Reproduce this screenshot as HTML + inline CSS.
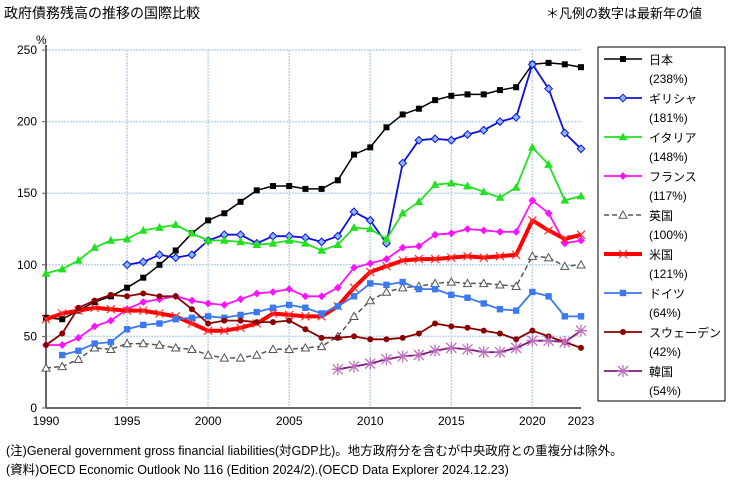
<!DOCTYPE html>
<html><head><meta charset="utf-8">
<style>
body{margin:0;background:#fff;}
svg{display:block;font-family:"Liberation Sans","Noto Sans CJK JP",sans-serif;}
</style></head>
<body>
<svg id="chart" width="736" height="486" viewBox="0 0 736 486">
<text x="4" y="18" font-size="14">政府債務残高の推移の国際比較</text>
<text x="546" y="18" font-size="13">＊凡例の数字は最新年の値</text>
<g id="grid"></g>
<g id="series"></g>
<g id="legend"></g>
<text x="6" y="455" font-size="12.5">(注)General government gross financial liabilities(対GDP比)。地方政府分を含むが中央政府との重複分は除外。</text>
<text x="6" y="474" font-size="12.5">(資料)OECD Economic Outlook No 116 (Edition 2024/2).(OECD Data Explorer 2024.12.23)</text>
</svg>
<script>
const years = [];
for (let y = 1990; y <= 2023; y++) years.push(y);
const yTicks = [0,50,100,150,200,250];
const xTicks = [1990,1995,2000,2005,2010,2015,2020,2023];
const japan = [63,62,68,74,78,84,91,100,110,122,131,136,144,152,155,155,153,153,159,177,182,196,205,209,215,218,219,219,222,224,240,241,240,238];
const greece = [null,null,null,null,null,100,102,107,105,107,117,121,121,115,120,120,119,116,120,137,131,115,171,187,188,187,191,194,200,203,240,223,192,181];
const italy = [94,97,103,112,117,118,124,126,128,122,117,117,116,114,115,117,115,110,114,126,125,118,136,144,156,157,155,151,147,154,182,170,145,148];
const france = [44,44,49,57,61,69,74,76,78,75,73,72,76,80,81,83,78,78,84,98,101,104,112,113,121,122,125,124,123,123,145,136,115,117];
const uk = [28,29,34,42,41,45,45,44,42,41,37,35,35,37,41,41,42,43,50,64,75,81,84,85,87,88,87,87,86,85,106,105,99,100];
const us = [62,66,68,70,69,68,68,66,64,59,54,54,56,59,66,65,64,64,71,84,95,99,103,104,104,105,106,105,106,107,131,124,118,121];
const germany = [null,37,40,45,46,55,58,59,62,63,64,63,65,67,70,72,70,66,71,78,87,86,88,83,83,79,77,73,69,68,81,78,64,64];
const sweden = [44,52,70,75,79,78,80,78,78,69,59,61,61,60,60,61,55,49,49,50,48,48,49,52,59,57,56,54,52,48,54,50,46,42];
const korea = [null,null,null,null,null,null,null,null,null,null,null,null,null,null,null,null,null,null,27,29,31,34,36,37,40,42,41,39,39,42,47,47,46,54];
const legendNames = ["日本","ギリシャ","イタリア","フランス","英国","米国","ドイツ","スウェーデン","韓国"];
const legendValues = ["(238%)","(181%)","(148%)","(117%)","(100%)","(121%)","(64%)","(42%)","(54%)"];

const NS = "http://www.w3.org/2000/svg";
const X0 = 46, X1 = 581, Y0 = 408, Y1 = 50;
function xs(yr){ return X0 + (yr - 1990) * (X1 - X0) / 33; }
function ys(v){ return Y0 - v * (Y0 - Y1) / 250; }
function mk(tag, attrs, parent){ const e = document.createElementNS(NS, tag); for (const k in attrs) e.setAttribute(k, attrs[k]); parent.appendChild(e); return e; }

const grid = document.getElementById('grid');
yTicks.forEach(v => {
  if (v > 0) {
    const gl = mk('line', {x1:X0, x2:X1, y1:ys(v), y2:ys(v), stroke:'#bcd4ee', 'stroke-width':1.5, 'stroke-dasharray':'2,1'}, grid);
    
    
  }
  const t = mk('text', {x:37, y:ys(v)+4, 'font-size':12, 'text-anchor':'end'}, grid);
  t.textContent = v;
  
  
  const tk = mk('line', {x1:X0-4, x2:X0, y1:ys(v), y2:ys(v), stroke:'#555', 'stroke-width':1}, grid);
  
  
});
xTicks.forEach(yr => {
  if (yr > 1990 && yr < 2023) {
    const gl = mk('line', {x1:xs(yr), x2:xs(yr), y1:Y1, y2:Y0, stroke:'#bcd4ee', 'stroke-width':1.5, 'stroke-dasharray':'2,1'}, grid);
    
    
  }
  const t = mk('text', {x:xs(yr), y:425, 'font-size':12, 'text-anchor':'middle'}, grid);
  t.textContent = yr;
  
  
});
const pct = mk('text', {x:36, y:44, 'font-size':12}, grid);
pct.textContent = '%';


const ax1 = mk('line', {x1:X0, x2:X0, y1:Y1-5, y2:Y0, stroke:'#666', 'stroke-width':2}, grid);


const ax2 = mk('line', {x1:X0, x2:X1, y1:Y0, y2:Y0, stroke:'#666', 'stroke-width':2}, grid);



const styles = [
  {data:japan, color:'#000', w:1.5, m:'square', mf:'#000', ms:3},
  {data:greece, color:'#1010e0', w:1.8, m:'diamond', mf:'#8ab8f0', ms:2.8},
  {data:italy, color:'#22e022', w:1.8, m:'triangle', mf:'#22e022', ms:3.5},
  {data:france, color:'#ff10ff', w:1.8, m:'diamond', mf:'#ff10ff', ms:2.2},
  {data:uk, color:'#555', w:1.5, m:'triangle', mf:'#fff', ms:4, dash:'5,3'},
  {data:us, color:'#ff0000', w:4, m:'x', mf:'#ff3030', ms:4},
  {data:germany, color:'#3c78f0', w:1.8, m:'square', mf:'#3c78f0', ms:3.2},
  {data:sweden, color:'#8b0000', w:1.8, m:'circle', mf:'#8b0000', ms:3},
  {data:korea, color:'#7a1a7a', w:1.8, m:'star', mf:'#c070c0', ms:5}
];
function marker(g, type, x, y, s, fill, stroke){
  let e;
  if (type === 'square') e = mk('rect', {x:x-s, y:y-s, width:2*s, height:2*s, fill:fill}, g);
  else if (type === 'diamond') e = mk('polygon', {points:`${x},${y-s-1} ${x+s+1},${y} ${x},${y+s+1} ${x-s-1},${y}`, fill:fill, stroke:stroke, 'stroke-width':1}, g);
  else if (type === 'triangle') e = mk('polygon', {points:`${x},${y-s} ${x+s},${y+s*0.8} ${x-s},${y+s*0.8}`, fill:fill, stroke:stroke, 'stroke-width':1}, g);
  else if (type === 'circle') e = mk('circle', {cx:x, cy:y, r:s, fill:fill}, g);
  else if (type === 'x') e = mk('path', {d:`M${x-s},${y-s}L${x+s},${y+s}M${x-s},${y+s}L${x+s},${y-s}`, stroke:fill, 'stroke-width':1.2}, g);
  else e = mk('path', {d:`M${x-s},${y-s}L${x+s},${y+s}M${x-s},${y+s}L${x+s},${y-s}M${x},${y-s-1}L${x},${y+s+1}M${x-s-1},${y}L${x+s+1},${y}`, stroke:fill, 'stroke-width':1.3}, g);
  return e;
}
const sg = document.getElementById('series');
styles.forEach((st, i) => {
  const g = mk('g', {}, sg);
  
  
  let d = '';
  st.data.forEach((v, j) => { if (v == null) return; d += (d ? 'L' : 'M') + xs(years[j]).toFixed(1) + ',' + ys(v).toFixed(1); });
  const p = mk('path', {d:d, fill:'none', stroke:st.color, 'stroke-width':st.w, 'stroke-linejoin':'round'}, g);
  if (st.dash) p.setAttribute('stroke-dasharray', st.dash);
  
  
  st.data.forEach((v, j) => {
    if (v == null) return;
    const m = marker(g, st.m, xs(years[j]), ys(v), st.ms, st.mf, st.color);
    
    
  });
});
const lg = document.getElementById('legend');
const box = mk('rect', {x:598, y:47, width:127, height:354, fill:'#fff', stroke:'#000', 'stroke-width':1}, lg);


styles.forEach((st, i) => {
  const y = 59 + i * 39;
  const g = mk('g', {}, lg);
  
  
  const l = mk('line', {x1:604, x2:642, y1:y, y2:y, stroke:st.color, 'stroke-width':st.w}, g);
  if (st.dash) l.setAttribute('stroke-dasharray', st.dash);
  marker(g, st.m, 623, y, st.ms, st.mf, st.color);
  const t = mk('text', {x:649, y:y+5, 'font-size':12}, g);
  t.textContent = legendNames[i];
  const t2 = mk('text', {x:649, y:y+24, 'font-size':12}, g);
  t2.textContent = legendValues[i];
});
</script>
</body></html>
